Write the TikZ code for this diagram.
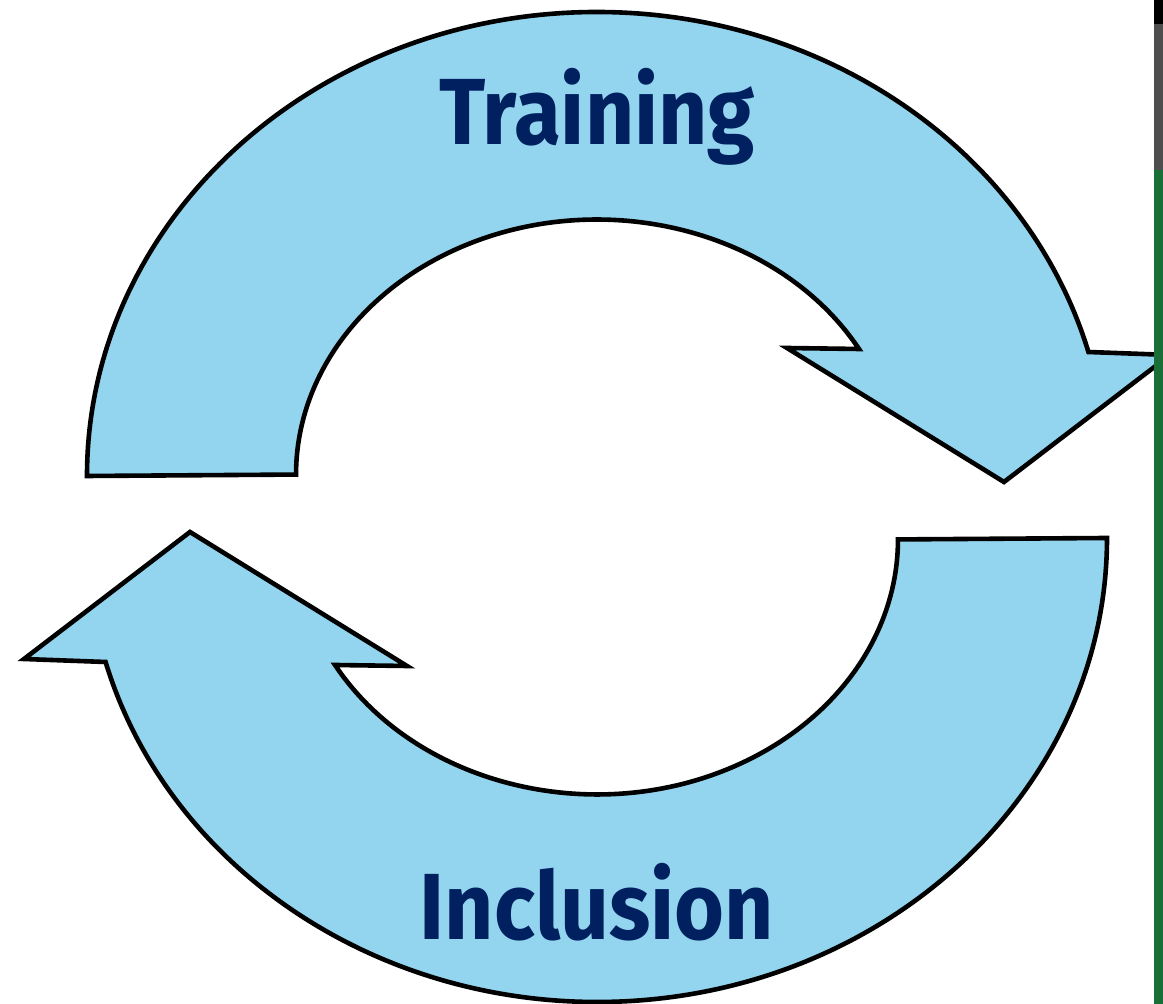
\documentclass[tikz,border=0pt]{standalone}
\usepackage{fontspec}
\setsansfont{Fira Sans}
\usepackage{tikz}
\usetikzlibrary{calc}
\definecolor{cyclue}{RGB}{147,213,239}
\definecolor{cycnavy}{RGB}{0,32,96}
\definecolor{stripgreen}{RGB}{24,112,56}
\definecolor{stripgrey}{RGB}{78,78,78}

\begin{document}
\begin{tikzpicture}[x=1pt, y=1pt,
  cycarrow/.style={fill=cyclue, draw=black, line width=4.6pt, line join=miter},
  cyclabel/.style={text=cycnavy, font=\sffamily\bfseries\fontsize{94}{94}\selectfont,
    anchor=base, inner sep=0pt, xscale=0.91}
]
  \useasboundingbox (0,0) rectangle (1163,1004);

  % Training arrow (upper half, pointing down-right)
  \coordinate (ctr) at (597,497);
  \draw[cycarrow] (87,528)
    arc[start angle=180, end angle=15.5, x radius=510, y radius=464]
    -- (1170,649) -- (1004,522) -- (787,656) -- (859,655)
    arc[start angle=29.5, end angle=180, x radius=301, y radius=255]
    -- cycle;

  % Inclusion arrow (same shape turned half a turn)
  \begin{scope}[rotate around={180:(ctr)}]
    \draw[cycarrow] (87,528)
      arc[start angle=180, end angle=15.5, x radius=510, y radius=464]
      -- (1170,649) -- (1004,522) -- (787,656) -- (859,655)
      arc[start angle=29.5, end angle=180, x radius=301, y radius=255]
      -- cycle;
  \end{scope}

  % Labels
  \node[cyclabel] (training) at (597,859) {Training};
  \node[cyclabel] (inclusion) at (597,64) {Inclusion};

  % edge of the neighbouring page
  \fill[stripgreen] (1154,0) rectangle (1163,834);
  \fill[stripgrey] (1154,834) rectangle (1163,980);
  \fill[black] (1154,980) rectangle (1163,1004);
\end{tikzpicture}
\end{document}
